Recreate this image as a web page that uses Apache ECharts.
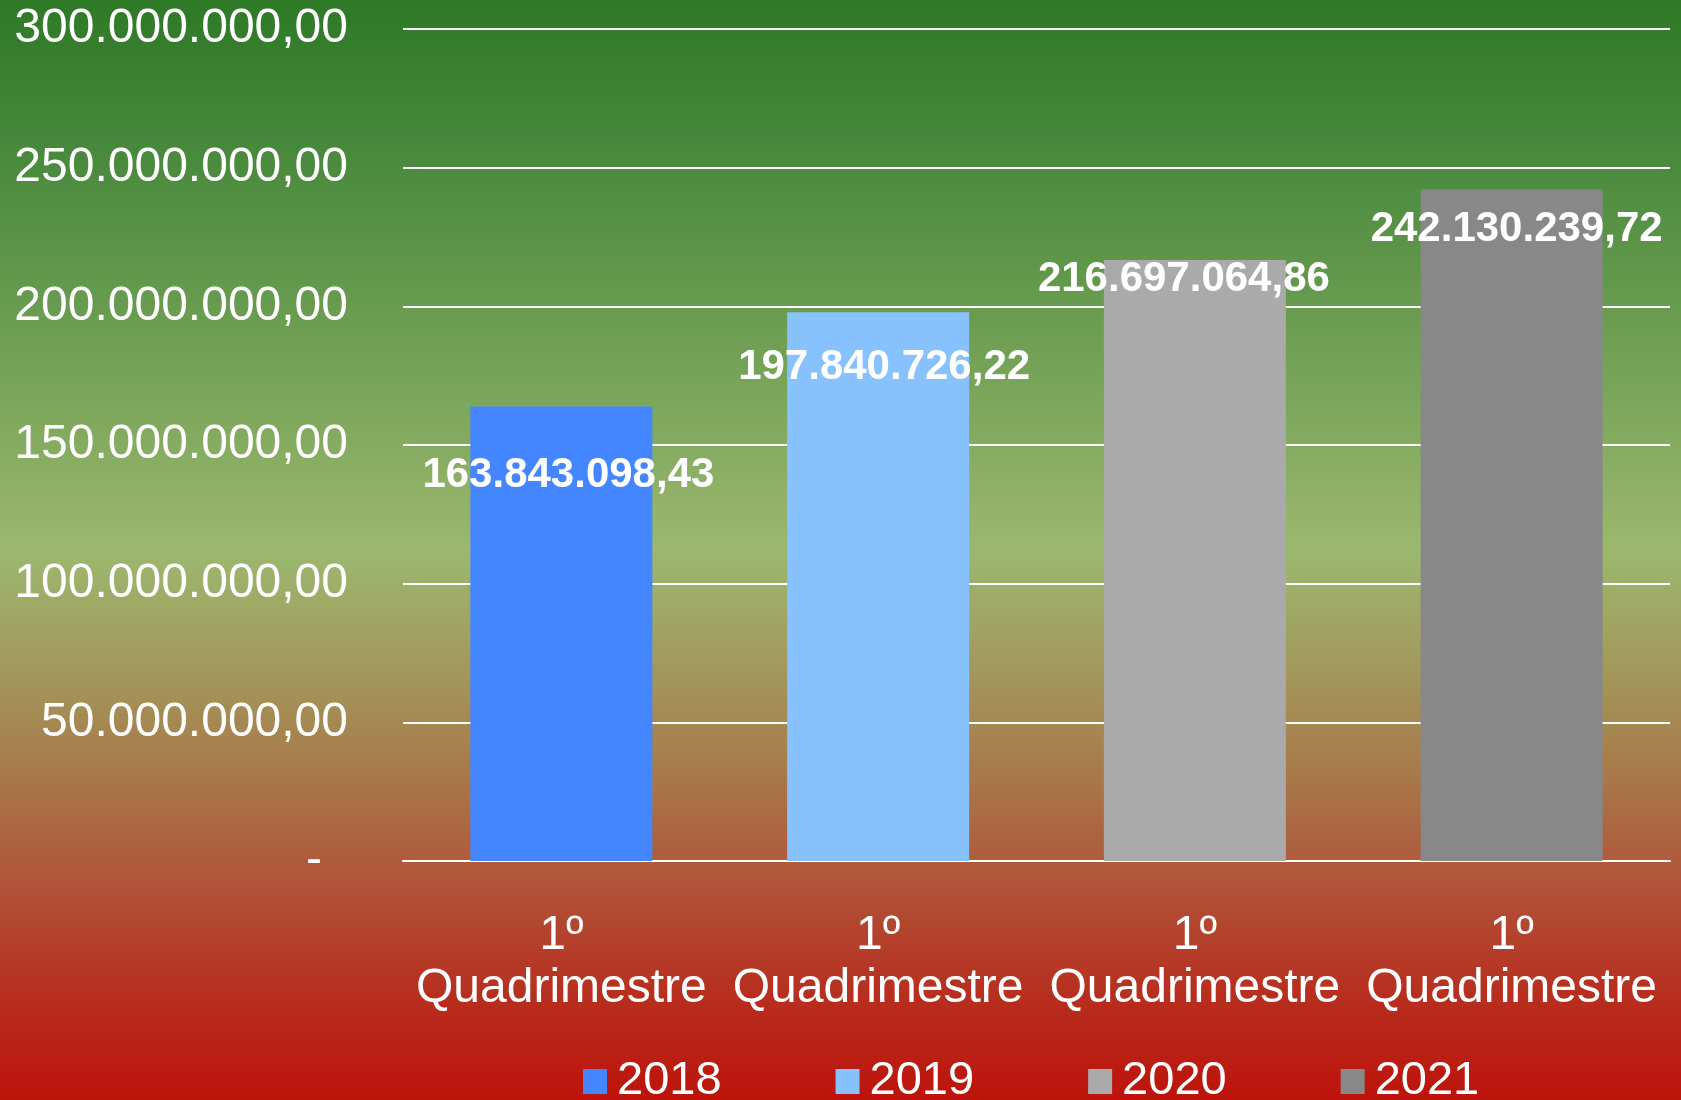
<!DOCTYPE html>
<html>
<head>
<meta charset="utf-8">
<script src="https://cdn.jsdelivr.net/npm/echarts@6/dist/echarts.min.js"></script>
<style>
html,body{margin:0;padding:0;}
#chart{width:1681px;height:1100px;}
</style>
</head>
<body>
<div id="chart"></div>
<script>
// ---- data ----
const categories = ['2018', '2019', '2020', '2021'];
const tickLabels = ['1º\nQuadrimestre', '1º\nQuadrimestre', '1º\nQuadrimestre', '1º\nQuadrimestre'];
const seriesNames = ['2018', '2019', '2020', '2021'];
const values2018 = [163843098.43];
const values2019 = [197840726.22];
const values2020 = [216697064.86];
const values2021 = [242130239.72];
const yTicks = [0, 50000000, 100000000, 150000000, 200000000, 250000000, 300000000];

// ---- styles ----
const barColors = ['#4486ff', '#87c2ff', '#aaaaaa', '#888888'];
const labelOffsets = [[7, 48], [6, 34], [-11, -2], [5, 19]];

function fmtBR(v) {
  const parts = v.toFixed(2).split('.');
  const intPart = parts[0].replace(/\B(?=(\d{3})+(?!\d))/g, '.');
  return intPart + ',' + parts[1];
}

const allValues = [values2018, values2019, values2020, values2021];
const series = seriesNames.map((name, i) => {
  const data = categories.map((c, j) => (j === i ? allValues[i][0] : null));
  return {
    name: name,
    type: 'bar',
    barWidth: 182,
    barGap: '-100%',
    itemStyle: { color: barColors[i] },
    label: {
      show: true,
      position: 'insideTop',
      distance: 0,
      offset: labelOffsets[i],
      color: '#ffffff',
      fontFamily: 'Liberation Sans, Arial, sans-serif',
      fontWeight: 'bold',
      fontSize: 42,
      lineHeight: 42,
      formatter: p => fmtBR(p.value)
    },
    data: data
  };
});

const chart = echarts.init(document.getElementById('chart'));
chart.setOption({
  animation: false,
  backgroundColor: {
    type: 'linear', x: 0, y: 0, x2: 0, y2: 1,
    colorStops: [
      { offset: 0, color: '#2e7926' },
      { offset: 0.12, color: '#44873a' },
      { offset: 0.3, color: '#6d9e52' },
      { offset: 0.5, color: '#9bb86e' },
      { offset: 0.6, color: '#a29b5e' },
      { offset: 0.7, color: '#a87a4a' },
      { offset: 0.8, color: '#b0553a' },
      { offset: 0.9, color: '#b73020' },
      { offset: 1, color: '#bd130b' }
    ]
  },
  textStyle: { fontFamily: 'Liberation Sans, Arial, sans-serif' },
  grid: { left: 403, right: 11, top: 29, bottom: 239 },
  legend: {
    data: seriesNames,
    left: 578,
    top: 1053,
    icon: 'rect',
    itemWidth: 24,
    itemHeight: 25,
    itemGap: 114,
    textStyle: { color: '#ffffff', fontSize: 47, fontFamily: 'Liberation Sans, Arial, sans-serif', padding: [0, 0, 0, 5] }
  },
  xAxis: {
    type: 'category',
    data: categories,
    axisLine: { show: true, lineStyle: { color: '#ffffff', width: 2 } },
    axisTick: { show: false },
    axisLabel: {
      color: '#ffffff',
      fontSize: 48,
      lineHeight: 53,
      margin: 48,
      interval: 0,
      formatter: (v, idx) => tickLabels[idx]
    }
  },
  yAxis: {
    type: 'value',
    min: yTicks[0],
    max: yTicks[yTicks.length - 1],
    interval: yTicks[1] - yTicks[0],
    axisLine: { show: false },
    axisTick: { show: false },
    splitLine: { lineStyle: { color: '#ffffff', width: 2 } },
    axisLabel: {
      color: '#ffffff',
      fontSize: 48,
      margin: 55,
      formatter: v => v === 0 ? '{z|-}' : fmtBR(v),
      rich: { z: { fontSize: 48, color: '#ffffff', padding: [0, 26, 0, 0] } }
    }
  },
  series: series
});
</script>
</body>
</html>
